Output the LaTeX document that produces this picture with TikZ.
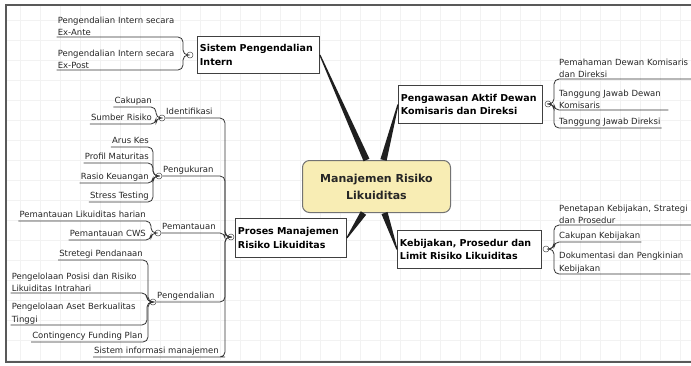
\documentclass[tikz,border=0pt]{standalone}
\usepackage{fontspec}
\setmainfont{DejaVu Sans}
\usetikzlibrary{calc}

\definecolor{topicyellow}{HTML}{F8EDB4}

% thick tapered connector from a main topic (#1) to the central topic (#2)
\newcommand{\taper}[2]{%
  \fill[black!88] ($(#1)!0.6pt!90:(#2)$) -- ($(#1)!0.6pt!-90:(#2)$)
    -- ($(#2)!3.2pt!90:(#1)$) -- ($(#2)!3.2pt!-90:(#1)$) -- cycle;}

\begin{document}
\begin{tikzpicture}[x=1pt,y=-1pt,
    topic/.style={draw=black!75, line width=0.9pt, fill=white, anchor=north west,
      align=left, inner sep=2.5pt, font=\fontsize{9.5}{13.5}\selectfont\bfseries},
    leafw/.style={inner sep=1pt, text=black!85, align=left,
      font=\fontsize{8.5}{12.5}\selectfont},
    leaf/.style={leafw, text depth=2pt},
    branch/.style={draw=black!80, line width=0.8pt, rounded corners=5pt},
    knob/.style={circle, draw=black!70, fill=white, line width=0.5pt,
      inner sep=0pt, minimum size=6pt}]
  \useasboundingbox (0,0) rectangle (691,365);
  \draw[black!5, line width=0.4pt, step=20pt] (6,5) grid (691,362);
  \draw[black!65, line width=1.6pt] (691,5) -- (6,5) -- (6,362) -- (691,362);

  % central topic
  \node[draw=black!55, line width=1pt, fill=topicyellow, rounded corners=7pt,
    minimum width=148pt, minimum height=52pt, anchor=north west, align=center,
    font=\fontsize{11}{17}\selectfont\bfseries, text=black!85] (0) at (302,160)
    {Manajemen Risiko\\Likuiditas};

  % main topics
  \node[topic, text width=117pt, minimum height=37pt] (1) at (197,36)
    {Sistem Pengendalian\\Intern};
  \node[topic, text width=139pt, minimum height=38pt] (2) at (398,85)
    {Pengawasan Aktif Dewan\\Komisaris dan Direksi};
  \node[topic, text width=106pt, minimum height=39pt] (3) at (235,218)
    {Proses Manajemen\\Risiko Likuiditas};
  \node[topic, text width=139pt, minimum height=38pt] (4) at (397,230)
    {Kebijakan, Prosedur dan\\Limit Risiko Likuiditas};

  \taper{1.east}{[xshift=-10pt]0.north}
  \taper{2.west}{[xshift=7pt]0.north}
  \taper{3.east}{[xshift=-13pt]0.south}
  \taper{4.west}{[xshift=8pt]0.south}

  % Sistem Pengendalian Intern
  \node[knob] (k1) at (190,55) {};
  \node[leafw, anchor=south east, text width=120pt] (11) at (179,37)
    {Pengendalian Intern secara\\Ex-Ante};
  \node[leafw, anchor=south east, text width=120pt] (12) at (179,70)
    {Pengendalian Intern secara\\Ex-Post};
  \draw[branch] (k1.west) -| ([xshift=4pt]11.south east) -- (11.south west);
  \draw[branch] (k1.west) -| ([xshift=4pt]12.south east) -- (12.south west);

  % Pengawasan Aktif Dewan Komisaris dan Direksi
  \node[knob] (k2) at (548,104) {};
  \node[leafw, anchor=south west, text width=134pt] (21) at (558,79)
    {Pemahaman Dewan Komisaris\\dan Direksi};
  \node[leafw, anchor=south west, text width=108pt] (22) at (558,110)
    {Tanggung Jawab Dewan\\Komisaris};
  \node[leaf, anchor=south west] (23) at (558,128) {Tanggung Jawab Direksi};
  \draw[branch] (k2.east) -| ([xshift=-4pt]21.south west) -- (21.south east);
  \draw[branch] (k2.east) -| ([xshift=-4pt]22.south west) -- (22.south east);
  \draw[branch] (k2.east) -| ([xshift=-4pt]23.south west) -- (23.south east);

  % Kebijakan, Prosedur dan Limit Risiko Likuiditas
  \node[knob] (k4) at (546,249) {};
  \node[leafw, anchor=south west, text width=134pt] (41) at (558,225)
    {Penetapan Kebijakan, Strategi\\dan Prosedur};
  \node[leaf, anchor=south west] (42) at (558,242) {Cakupan Kebijakan};
  \node[leafw, anchor=south west, text width=130pt] (43) at (558,274)
    {Dokumentasi dan Pengkinian\\Kebijakan};
  \draw[branch] (k4.east) -| ([xshift=-4pt]41.south west) -- (41.south east);
  \draw[branch] (k4.east) -| ([xshift=-4pt]42.south west) -- (42.south east);
  \draw[branch] (k4.east) -| ([xshift=-4pt]43.south west) -- (43.south east);

  % Proses Manajemen Risiko Likuiditas
  \node[knob] (k3) at (231,237) {};
  \coordinate (v) at (225,237);

  \node[knob] (k31) at (162,118) {};
  \node[leaf, anchor=south west] (31) at (165,118) {Identifikasi};
  \draw[branch] (k3.west) -- (v) |- (k31.east);
  \node[leaf, anchor=south east] (311) at (153,107) {Cakupan};
  \node[leaf, anchor=south east] (312) at (153,124) {Sumber Risiko};
  \draw[branch] (k31.west) -| ([xshift=3pt]311.south east) -- (311.south west);
  \draw[branch] (k31.west) -| ([xshift=3pt]312.south east) -- (312.south west);

  \node[knob] (k32) at (159,176) {};
  \node[leaf, anchor=south west] (32) at (162,176) {Pengukuran};
  \draw[branch] (k3.west) -- (v) |- (k32.east);
  \node[leaf, anchor=south east] (321) at (150,147) {Arus Kes};
  \node[leaf, anchor=south east] (322) at (150,163) {Profil Maturitas};
  \node[leaf, anchor=south east] (323) at (150,183) {Rasio Keuangan};
  \node[leaf, anchor=south east] (324) at (150,202) {Stress Testing};
  \foreach \i in {321,322,323,324}
    \draw[branch] (k32.west) -| ([xshift=3pt]\i.south east) -- (\i.south west);

  \node[knob] (k33) at (158,233) {};
  \node[leaf, anchor=south west] (33) at (161,233) {Pemantauan};
  \draw[branch] (k3.west) -- (v) |- (k33.east);
  \node[leaf, anchor=south east] (331) at (147,221) {Pemantauan Likuiditas harian};
  \node[leaf, anchor=south east] (332) at (147,240) {Pemantauan CWS};
  \draw[branch] (k33.west) -| ([xshift=4pt]331.south east) -- (331.south west);
  \draw[branch] (k33.west) -| ([xshift=4pt]332.south east) -- (332.south west);

  \node[knob] (k34) at (153,302) {};
  \node[leaf, anchor=south west] (34) at (156,302) {Pengendalian};
  \draw[branch] (k3.west) -- (v) |- (k34.east);
  \node[leaf, anchor=south east] (341) at (144,260) {Stretegi Pendanaan};
  \node[leafw, anchor=south east, text width=130pt] (342) at (143,293)
    {Pengelolaan Posisi dan Risiko\\Likuiditas Intrahari};
  \node[leafw, anchor=south east, text width=130pt] (343) at (143,325)
    {Pengelolaan Aset Berkualitas\\Tinggi};
  \node[leaf, anchor=south east] (344) at (144,342) {Contingency Funding Plan};
  \foreach \i in {341,342,343,344}
    \draw[branch] (k34.west) -| ([xshift=4pt]\i.south east) -- (\i.south west);

  \node[leaf, anchor=south east] (35) at (220,357) {Sistem informasi manajemen};
  \draw[branch] (k3.west) -- (v) |- (35.south east) -- (35.south west);
\end{tikzpicture}
\end{document}
